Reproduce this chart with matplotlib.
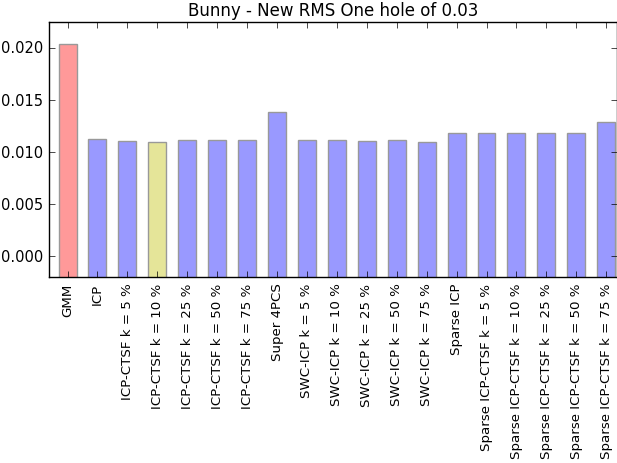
import matplotlib
matplotlib.use('Agg')
import matplotlib.pyplot as plt

methods = ['GMM', 'ICP',
           'ICP-CTSF k = 5 %', 'ICP-CTSF k = 10 %', 'ICP-CTSF k = 25 %',
           'ICP-CTSF k = 50 %', 'ICP-CTSF k = 75 %',
           'Super 4PCS',
           'SWC-ICP k = 5 %', 'SWC-ICP k = 10 %', 'SWC-ICP k = 25 %',
           'SWC-ICP k = 50 %', 'SWC-ICP k = 75 %',
           'Sparse ICP',
           'Sparse ICP-CTSF k = 5 %', 'Sparse ICP-CTSF k = 10 %',
           'Sparse ICP-CTSF k = 25 %', 'Sparse ICP-CTSF k = 50 %',
           'Sparse ICP-CTSF k = 75 %']
rms = [0.02041, 0.01127,
       0.01104, 0.01101, 0.01113, 0.01113, 0.01113,
       0.01386,
       0.01113, 0.01113, 0.01104, 0.01113, 0.01101,
       0.01184,
       0.01184, 0.01184, 0.01184, 0.01184, 0.01286]

worst = 0  # GMM
best = 3   # ICP-CTSF k = 10 %

colors = ['#9999ff'] * len(rms)
colors[worst] = '#ff9999'
colors[best] = '#e5e599'

plt.style.use('classic')
plt.rcParams['figure.facecolor'] = 'white'
plt.rcParams['font.family'] = 'DejaVu Sans'

fig = plt.figure(figsize=(6.17, 4.64), dpi=100)
ax = fig.add_axes([0.0794, 0.4009, 0.9206, 0.5496])

ymin, ymax = -0.002, 0.0225
x = list(range(len(rms)))
# bars start below the visible range, so no bottom edge shows
base = ymin - 0.001
ax.bar(x, [v - base for v in rms], bottom=base, width=0.6, align='center',
       color=colors, edgecolor='#999999', linewidth=1)
ax.set_xticks(x)
ax.set_xticklabels(methods, rotation=90)
ax.set_xlim(-0.62, 18.36)
ax.set_ylim(ymin, ymax)
ax.set_yticks([0.0, 0.005, 0.010, 0.015, 0.020])
ax.set_yticklabels(['0.000', '0.005', '0.010', '0.015', '0.020'])
ax.set_title('Bunny - New RMS One hole of 0.03', fontsize=12)
ax.tick_params(axis='x', labelsize=9.6)
ax.tick_params(axis='y', labelsize=10.5)

fig.savefig('out.png', dpi=100, facecolor='white')
